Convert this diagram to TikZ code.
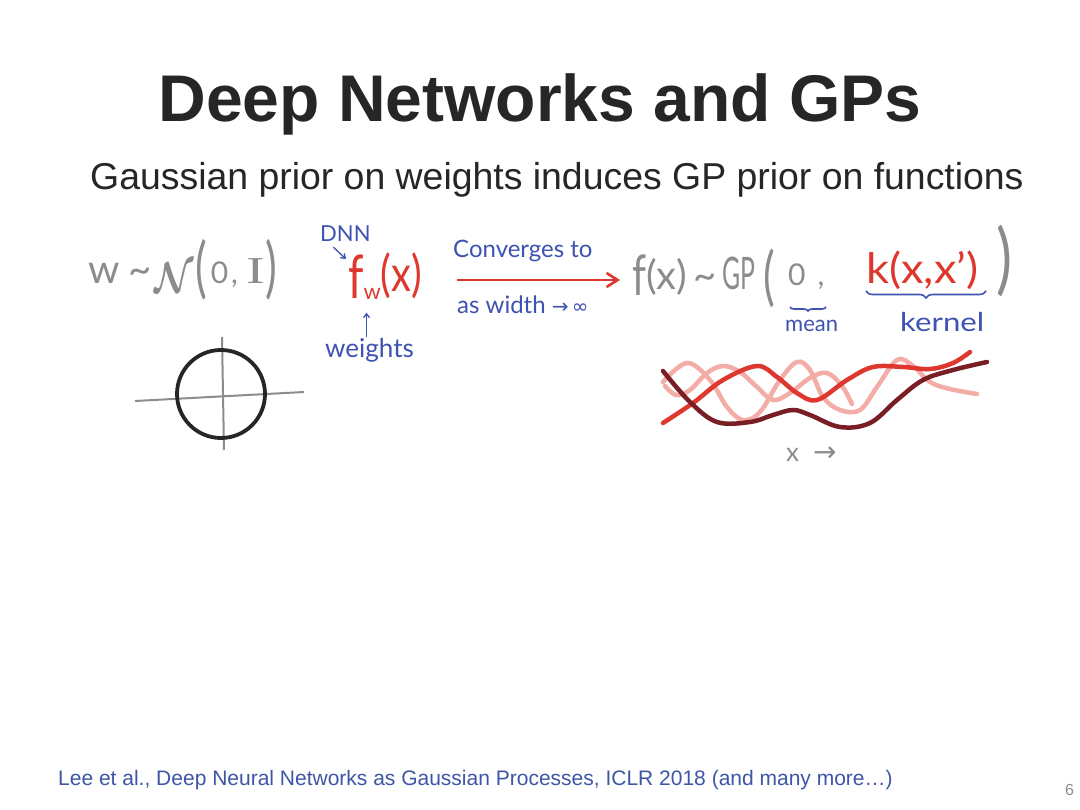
\documentclass[tikz,border=0pt]{standalone}
\usepackage{fontspec}
\usepackage{graphicx}
\setmainfont{Liberation Sans}
\newfontfamily\hw{Lato}
\newfontfamily\sym{DejaVu Sans}
\newfontfamily\serifI{Liberation Serif}
\usetikzlibrary{arrows.meta,decorations.pathreplacing}
\definecolor{titlecol}{RGB}{38,38,38}
\definecolor{hwgray}{RGB}{140,140,140}
\definecolor{hwblue}{RGB}{62,82,178}
\definecolor{hwred}{RGB}{222,56,46}
\definecolor{pinkc}{RGB}{243,172,166}
\definecolor{darkredc}{RGB}{120,30,36}
\definecolor{footblue}{RGB}{62,86,165}
\newcommand{\fs}[1]{\fontsize{#1}{#1}\selectfont}
\newcommand{\tallL}[1]{\raisebox{-7pt}{\scalebox{1.1}[#1]{(}}}
\newcommand{\tallR}[1]{\raisebox{-7pt}{\scalebox{1.1}[#1]{)}}}
\tikzset{
  txt/.style={inner sep=0pt, anchor=base west},
  hwg/.style={txt, text=hwgray, font=\hw\fs{40}},
  hwb/.style={txt, text=hwblue, font=\hw\fs{24}},
  hwr/.style={txt, text=hwred, font=\hw\fs{40}},
  bluearrow/.style={draw=hwblue, line width=1.3pt, -{Straight Barb[length=4pt,width=6pt]}},
  curve/.style={line width=4.5pt, line cap=round, smooth, tension=0.6},
  bracestyle/.style={draw=hwblue, line width=1.6pt, decorate}
}
\begin{document}
\begin{tikzpicture}[x=1pt,y=-1pt]
\useasboundingbox (0,0) rectangle (1080,810);
\fill[white] (0,0) rectangle (1080,810);

% title and subtitle
\node[inner sep=0pt, anchor=base, text=titlecol, font=\bfseries\fs{66}] (title) at (540,122) {Deep Networks and GPs};
\node[txt, text=titlecol, font=\fs{37.4}] (subtitle) at (90,190) {Gaussian prior on weights induces GP prior on functions};

% w ~ N(0,I)
\node[hwg] (wdist) at (88,284) {w\hspace{9pt}\textasciitilde\hspace{3pt}\raisebox{-9pt}{\scalebox{1.45}[1.75]{\boldmath$\mathcal{N}$}}\hspace{1pt}\tallL{1.65}\hspace{4pt}{\fs{30}0\hspace{3pt},}\hspace{8pt}{\serifI\scalebox{1.4}[0.95]{I}}\hspace{1pt}\tallR{1.65}};

% circle with axes
\draw[hwgray, line width=2pt] (135,401) -- (304,392);
\draw[hwgray, line width=2pt] (222,337) -- (224,450);
\node[circle, draw=black!85, line width=3.8pt, minimum size=88pt, inner sep=0pt] (prior) at (221,394) {};

% DNN f_w(x)
\node[hwb, font=\hw\fs{22}] (dnn) at (320,242) {DNN};
\node[hwr] (fw) at (348,292) {\raisebox{-7pt}{\scalebox{1.1}[1.5]{f}}\raisebox{-8pt}{\fs{22}w}\scalebox{1}[1.25]{(x)}};
\node[hwb, font=\hw\fs{26}] (weights) at (325,358) {weights};
\draw[bluearrow] ([xshift=-12pt,yshift=-5pt]dnn.south) -- ([xshift=-2pt,yshift=-6pt]fw.north west);
\draw[bluearrow] ([xshift=-3pt,yshift=2pt]weights.north) -- ([xshift=-3pt,yshift=26pt]weights.north);

% converges arrow
\node[hwb] (conv) at (453,258) {Converges to};
\node[hwb] (width) at (457,314) {as width {\sym\fs{20}→\,∞}};
\coordinate (arrS) at (457,280);
\coordinate (arrE) at (620,280);
\draw[hwred, line width=2.6pt, -{Straight Barb[length=11pt,width=14pt]}] (arrS) -- (arrE);

% f(x) ~ GP(0, k(x,x'))
\node[hwg] (gp) at (632,290) {\raisebox{-6pt}{\scalebox{1}[1.4]{f}}(x)\hspace{6pt}\textasciitilde};
\node[hwg] (gpname) at (722,290) {\scalebox{0.62}[1.12]{GP}};
\node[hwg] (lparen) at (763,292) {\tallL{1.6}};
\node[hwg, font=\hw\fs{30}] (zero) at (788,286) {0\hspace{12pt},};
\node[hwr] (kern) at (866,284) {\scalebox{1.13}[1.05]{k(x,x’)}};
\node[hwg] (rparen) at (996,286) {\scalebox{1.5}[1.95]{)}};
\coordinate (mb1) at (790,307);
\coordinate (mb2) at (826,307);
\coordinate (kb1) at (866,291);
\coordinate (kb2) at (986,291);
\draw[bracestyle, decoration={brace, mirror, amplitude=4pt}] (mb1) -- (mb2);
\draw[bracestyle, decoration={brace, mirror, amplitude=7pt}] (kb1) -- (kb2);
\node[hwb, font=\hw\fs{22}] (mean) at (785,332) {mean};
\node[hwb, font=\hw\fs{26}] (kernel) at (900,332) {\scalebox{1.2}[1]{kernel}};

% function samples
\draw[pinkc, curve] plot coordinates {(663,382) (687,363) (710,380) (727,407) (743,420) (760,412) (780,380) (797,362) (810,370) (823,397) (840,410) (860,410) (877,387) (897,360) (913,366) (930,382) (950,389) (977,394)};
\draw[pinkc, curve] plot coordinates {(665,386) (676,395) (690,390) (707,373) (723,366) (740,372) (757,387) (773,400) (790,393) (810,378) (827,373) (842,386) (852,404)};
\draw[hwred, curve] plot coordinates {(663,423) (693,403) (723,380) (757,366) (777,377) (797,393) (817,400) (847,380) (873,367) (903,367) (930,369) (953,363) (970,352)};
\draw[darkredc, curve] plot coordinates {(663,371) (690,402) (717,422) (750,422) (773,415) (793,410) (810,415) (840,427) (870,423) (897,400) (923,380) (953,370) (987,362)};
\node[hwg, font=\hw\fs{26}] (xlab) at (786,462) {x\hspace{14pt}{\sym\fs{28}→}};

% footer
\node[txt, text=footblue, font=\fs{21}] (footer) at (58,785) {Lee et al., Deep Neural Networks as Gaussian Processes, ICLR 2018 (and many more…)};
\node[txt, text=hwgray, font=\fs{16}] (page) at (1065,795) {6};
\end{tikzpicture}
\end{document}
